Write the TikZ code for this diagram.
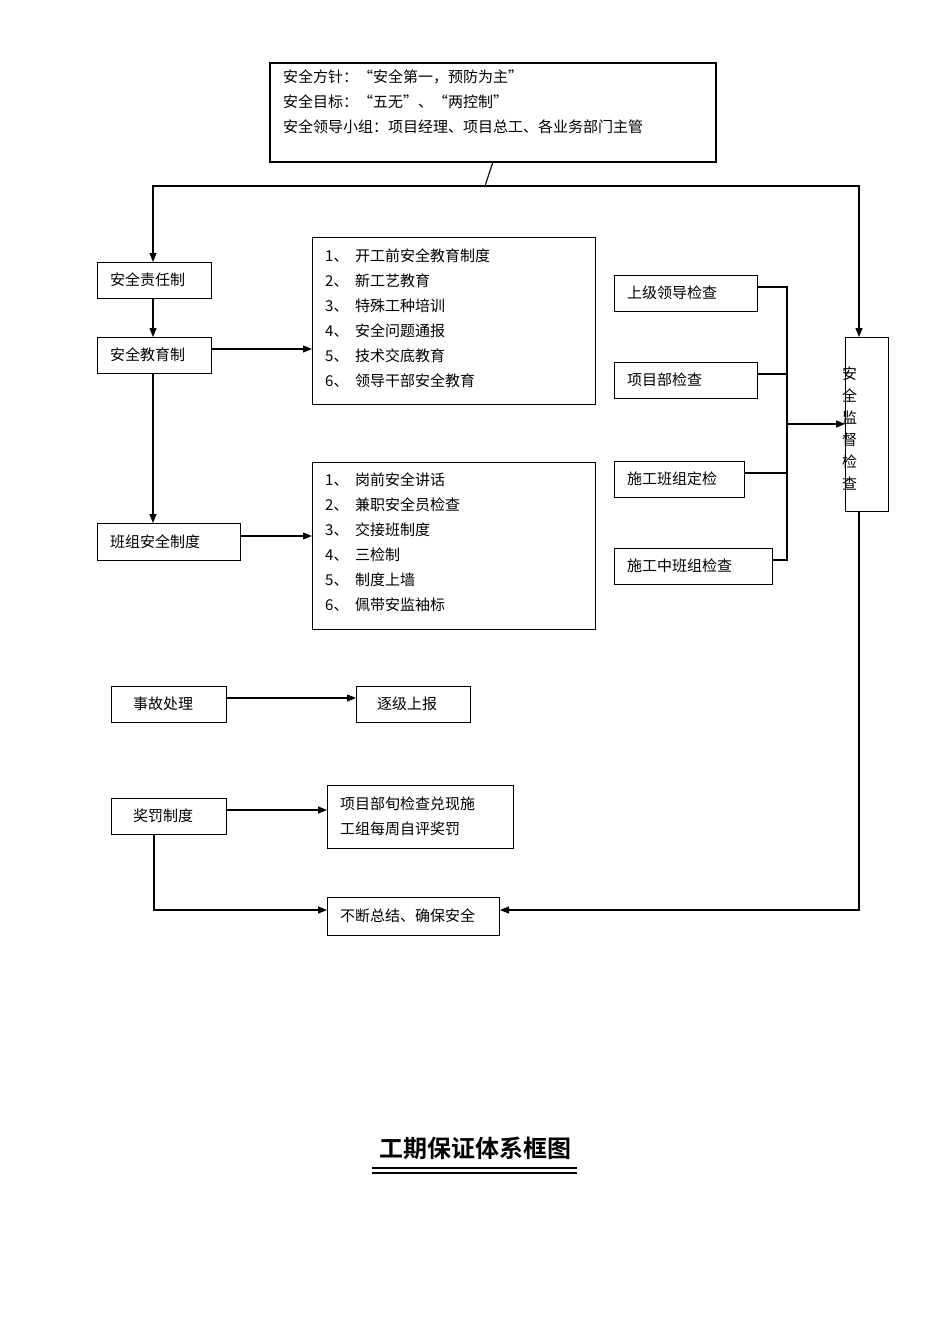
\documentclass[tikz,border=0pt]{standalone}
\usepackage{fontspec}
\setmainfont{Liberation Serif}
\newfontfamily\cjk{Noto Sans CJK SC}[BoldFont={Noto Sans CJK SC Bold}]
\usetikzlibrary{arrows.meta}
\begin{document}
\begin{tikzpicture}[x=1pt,y=-1pt,
  box/.style={draw,line width=1pt,anchor=north west,inner sep=0pt},
  txt/.style={anchor=west,inner sep=0pt,font=\cjk\fontsize{15}{25}\selectfont,align=left},
  ln/.style={line width=1.1pt},
  arr/.style={ln,-{Triangle[length=9pt,width=7pt]}}]
\useasboundingbox (0,0) rectangle (950,1344);
% top box
\node[box,line width=1.5pt,minimum width=446,minimum height=99] (top) at (269,62) {};
\node[txt,anchor=north west] (toptxt) at (283,70) {安全方针：“安全第一，预防为主”\\安全目标：“五无”、“两控制”\\安全领导小组：项目经理、项目总工、各业务部门主管};
% left column
\node[box,minimum width=114,minimum height=36] (zr) at (97,262) {};
\node[txt] at (110,280) {安全责任制};
\node[box,minimum width=114,minimum height=36] (jy) at (97,337) {};
\node[txt] at (110,355) {安全教育制};
\node[box,minimum width=143,minimum height=37] (bz) at (97,523) {};
\node[txt] at (110,542) {班组安全制度};
% lists
\node[box,minimum width=283,minimum height=167] (l1) at (312,237) {};
\node[txt] at (325,318) {1、\ \ 开工前安全教育制度\\2、\ \ 新工艺教育\\3、\ \ 特殊工种培训\\4、\ \ 安全问题通报\\5、\ \ 技术交底教育\\6、\ \ 领导干部安全教育};
\node[box,minimum width=283,minimum height=167] (l2) at (312,462) {};
\node[txt] at (325,542) {1、\ \ 岗前安全讲话\\2、\ \ 兼职安全员检查\\3、\ \ 交接班制度\\4、\ \ 三检制\\5、\ \ 制度上墙\\6、\ \ 佩带安监袖标};
% right checks
\node[box,minimum width=143,minimum height=36] (c1) at (614,275) {};
\node[txt] at (627,293) {上级领导检查};
\node[box,minimum width=143,minimum height=36] (c2) at (614,362) {};
\node[txt] at (627,380) {项目部检查};
\node[box,minimum width=130,minimum height=36] (c3) at (614,461) {};
\node[txt] at (627,479) {施工班组定检};
\node[box,minimum width=158,minimum height=36] (c4) at (614,548) {};
\node[txt] at (627,566) {施工中班组检查};
\node[box,minimum width=43,minimum height=174] (jd) at (845,337) {};
\node[txt,anchor=north west,font=\cjk\fontsize{15}{22}\selectfont] at (842,367) {安\\全\\监\\督\\检\\查};
% bottom
\node[box,minimum width=115,minimum height=36] (sg) at (111,686) {};
\node[txt] at (133,704) {事故处理};
\node[box,minimum width=114,minimum height=36] (sb) at (356,686) {};
\node[txt] at (377,704) {逐级上报};
\node[box,minimum width=115,minimum height=36] (jf) at (111,798) {};
\node[txt] at (133,816) {奖罚制度};
\node[box,line width=1.2pt,minimum width=186,minimum height=63] (xm) at (327,785) {};
\node[txt] at (340,816) {项目部旬检查兑现施\\工组每周自评奖罚};
\node[box,minimum width=172,minimum height=38] (bd) at (327,897) {};
\node[txt] at (340,916) {不断总结、确保安全};
% title
\node[inner sep=0pt,font=\cjk\bfseries\fontsize{24}{28}\selectfont] (title) at (475,1148) {工期保证体系框图};
\draw[line width=1.2pt] (372,1168) -- (577,1168) (372,1173) -- (577,1173);
% connectors
\draw[ln] (top.south) -- (485,186) coordinate (j);
\draw[arr] (j) -- (153,186) -- (zr.north -| 153,0);
\draw[arr] (j) -- (859,186) -- (jd.north -| 859,0);
\draw[arr] (zr.south -| 153,0) -- (jy.north -| 153,0);
\draw[arr] (jy.south -| 153,0) -- (bz.north -| 153,0);
\draw[arr] (jy.east |- 0,349) -- (l1.west |- 0,349);
\draw[arr] (bz.east |- 0,536) -- (l2.west |- 0,536);
\draw[ln] (c1.east |- 0,287) -- (787,287) -- (787,560) -- (c4.east |- 0,560);
\draw[ln] (c2.east |- 0,374) -- (787,374);
\draw[ln] (c3.east |- 0,473) -- (787,473);
\coordinate (m) at (787,424);
\draw[arr] (m) -- (jd.west |- m);
\draw[arr] (jd.south -| 859,0) -- (859,910) -- (bd.east |- 0,910);
\draw[arr] (jf.south -| 154,0) -- (154,910) -- (bd.west |- 0,910);
\draw[arr] (sg.east |- 0,698) -- (sb.west |- 0,698);
\draw[arr] (jf.east |- 0,810) -- (xm.west |- 0,810);
\end{tikzpicture}
\end{document}
